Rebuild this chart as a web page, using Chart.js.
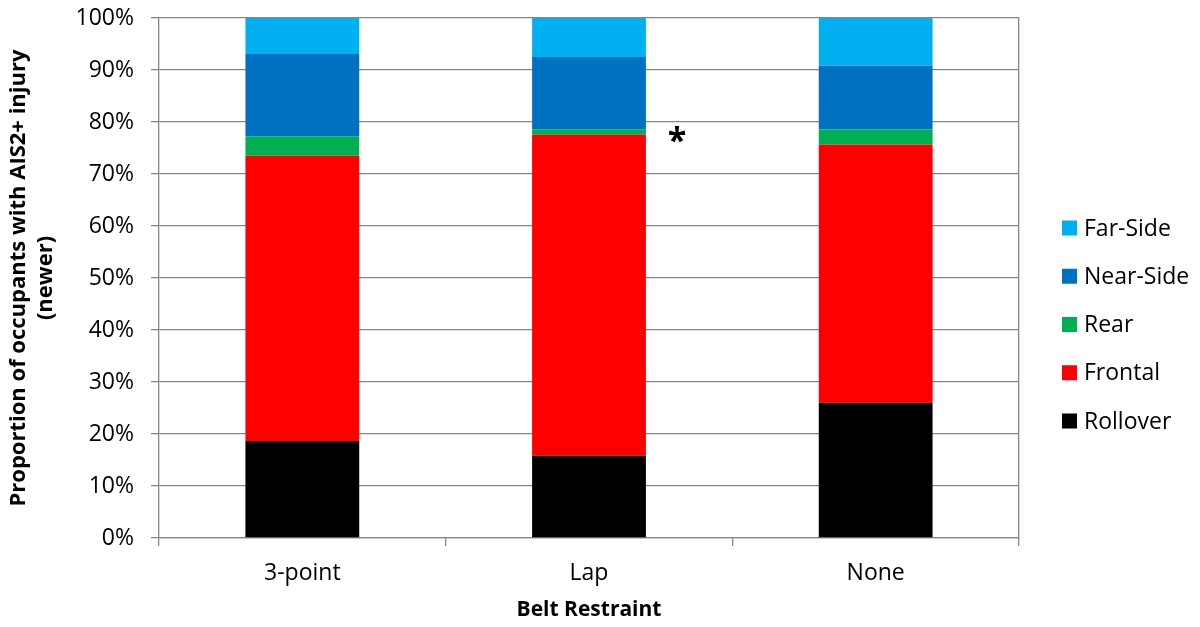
<!DOCTYPE html>
<html>
<head>
<meta charset="utf-8">
<script src="https://cdn.jsdelivr.net/npm/chart.js@4"></script>
<style>
  html, body { margin: 0; padding: 0; background: #fff; }
  #wrap { width: 1200px; height: 627px; }
</style>
</head>
<body>
<div id="wrap"><canvas id="injuryChart" width="1200" height="627"></canvas></div>
<script>
const categories = ['3-point', 'Lap', 'None'];
const rollover = [18.65, 15.8, 26.0];
const frontal = [54.85, 61.8, 49.65];
const rear = [3.75, 1.0, 2.95];
const nearSide = [15.85, 13.9, 12.2];
const farSide = [6.9, 7.5, 9.2];
const yTicks = [0, 10, 20, 30, 40, 50, 60, 70, 80, 90, 100];

const gridGray = '#868686';
const font = "'Open Sans', sans-serif";

// legend on the right, drawn top to bottom in reverse dataset order
const sideLegend = {
    id: 'sideLegend',
    afterDraw(chart) {
        const c = chart.ctx;
        const sets = chart.data.datasets.slice().reverse();
        c.save();
        c.font = '23px ' + font;
        c.textBaseline = 'middle';
        c.textAlign = 'left';
        sets.forEach((ds, i) => {
            const y = 228 + i * 48.25;
            c.fillStyle = ds.backgroundColor;
            c.fillRect(1062, y - 7.5, 15, 15);
            c.fillStyle = '#000';
            c.fillText(ds.label, 1084, y + 1);
        });
        c.restore();
    }
};

// asterisk next to the Lap bar
const starMark = {
    id: 'starMark',
    afterDatasetsDraw(chart) {
        const c = chart.ctx;
        const x = chart.scales.x.getPixelForValue(1) + 88;
        const y = chart.scales.y.getPixelForValue(77.5);
        c.save();
        c.font = 'bold 34px ' + font;
        c.fillStyle = '#000';
        c.textAlign = 'center';
        c.textBaseline = 'middle';
        c.fillText('*', x, y + 7);
        c.restore();
    }
};

const ctx = document.getElementById('injuryChart').getContext('2d');

let injuryChart = new Chart(ctx, {
    type: 'bar',
    data: {
        labels: categories,
        datasets: [
            { label: 'Rollover', data: rollover, backgroundColor: '#000000' },
            { label: 'Frontal', data: frontal, backgroundColor: '#FF0000' },
            { label: 'Rear', data: rear, backgroundColor: '#00B050' },
            { label: 'Near-Side', data: nearSide, backgroundColor: '#0070C0' },
            { label: 'Far-Side', data: farSide, backgroundColor: '#00B0F0' }
        ]
    },
    options: {
        responsive: false,
        animation: false,
        devicePixelRatio: 1,
        layout: { padding: { top: 18, left: 0, right: 0, bottom: 0 } },
        datasets: {
            bar: { categoryPercentage: 1, barPercentage: 0.397, borderWidth: 0 }
        },
        plugins: {
            legend: { display: false },
            tooltip: { enabled: false }
        },
        scales: {
            x: {
                stacked: true,
                offset: true,
                grid: { offset: true, drawOnChartArea: false, color: gridGray, tickLength: 8, lineWidth: 1.3 },
                border: { color: gridGray, width: 1.3 },
                ticks: { color: '#000', font: { family: font, size: 23 }, padding: 14 },
                title: {
                    display: true,
                    text: 'Belt Restraint',
                    color: '#000',
                    font: { family: font, size: 21, weight: 'bold' },
                    padding: { top: 8 }
                },
                afterFit(scale) { scale.height = 89; }
            },
            y: {
                stacked: true,
                min: 0,
                max: 100,
                afterBuildTicks(scale) { scale.ticks = yTicks.map(v => ({ value: v })); },
                grid: { color: gridGray, tickLength: 8, lineWidth: 1.3 },
                border: { color: gridGray, width: 1.3 },
                ticks: {
                    color: '#000',
                    font: { family: font, size: 23 },
                    padding: 17,
                    callback: v => v + '%'
                },
                title: {
                    display: true,
                    text: ['Proportion of occupants with AIS2+ injury', '(newer)'],
                    color: '#000',
                    font: { family: font, size: 22, weight: 'bold' },
                    padding: { top: 6, bottom: 0 }
                },
                afterFit(scale) {
                    scale.width = 159;
                    scale.paddingTop = 0;
                    scale.paddingBottom = 0;
                }
            },
            yRight: {
                position: 'right',
                min: 0,
                max: 100,
                grid: { drawOnChartArea: false, drawTicks: false },
                border: { color: gridGray, width: 1.3 },
                ticks: { display: false },
                afterFit(scale) {
                    scale.width = 181;
                    scale.paddingTop = 0;
                    scale.paddingBottom = 0;
                }
            }
        }
    },
    plugins: [sideLegend, starMark]
});
</script>
</body>
</html>
